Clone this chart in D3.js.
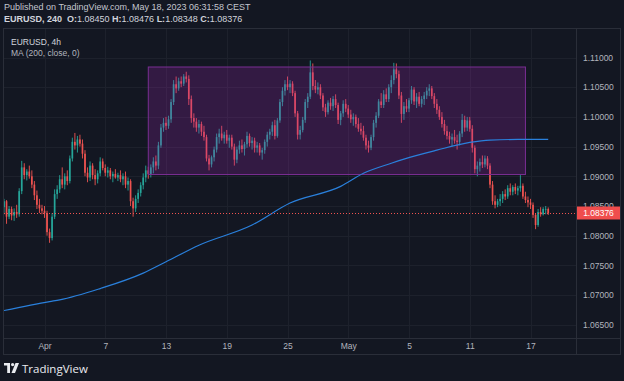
<!DOCTYPE html>
<html>
<head>
<meta charset="utf-8">
<script src="https://cdn.jsdelivr.net/npm/d3@7"></script>
<style>
  body { margin: 0; background: #131722; }
  svg { display: block; font-family: "Liberation Sans", Arial, sans-serif; }
</style>
</head>
<body>
<svg id="canvas" width="624" height="381"></svg>
<script>
// ************************************************************************************** //
// Data (EURUSD, 4h bars, Mar 29 08:00 -> May 18 04:00 CEST)

var dayTicks = [[16, 'Apr'], [40, '7'], [64, '13'], [88, '19'], [112, '25'], [136, 'May'], [160, '5'], [184, '11'], [208, '17']];
var priceTicks = [1.065, 1.07, 1.075, 1.08, 1.085, 1.09, 1.095, 1.10, 1.105, 1.11];

// [open, high, low, close]
var candles = [
  // Mar 29
  [1.0848,1.0862,1.0836,1.0858],[1.0858,1.0860,1.0820,1.0832],[1.0832,1.0850,1.0828,1.0845],[1.0845,1.0849,1.0826,1.0834],
  // Mar 30
  [1.0834,1.0846,1.0825,1.0840],[1.0840,1.0852,1.0830,1.0836],[1.0836,1.0880,1.0832,1.0875],[1.0875,1.0926,1.0870,1.0915],[1.0915,1.0922,1.0895,1.0902],[1.0902,1.0912,1.0893,1.0908],
  // Mar 31
  [1.0908,1.0918,1.0896,1.0900],[1.0900,1.0910,1.0880,1.0886],[1.0886,1.0892,1.0860,1.0868],[1.0868,1.0876,1.0845,1.0852],[1.0852,1.0862,1.0838,1.0846],[1.0846,1.0852,1.0836,1.0842],
  // Apr 3
  [1.0842,1.0850,1.0830,1.0838],[1.0838,1.0842,1.0800,1.0806],[1.0806,1.0812,1.0788,1.0796],[1.0796,1.0838,1.0792,1.0832],[1.0832,1.0878,1.0828,1.0870],[1.0870,1.0885,1.0862,1.0878],
  // Apr 4
  [1.0878,1.0902,1.0872,1.0895],[1.0895,1.0915,1.0880,1.0886],[1.0886,1.0905,1.0878,1.0900],[1.0900,1.0910,1.0885,1.0892],[1.0892,1.0935,1.0888,1.0930],[1.0930,1.0965,1.0925,1.0958],
  // Apr 5
  [1.0958,1.0973,1.0945,1.0952],[1.0952,1.0968,1.0940,1.0962],[1.0962,1.0970,1.0950,1.0955],[1.0955,1.0962,1.0930,1.0938],[1.0938,1.0944,1.0900,1.0906],[1.0906,1.0915,1.0890,1.0898],
  // Apr 6
  [1.0898,1.0925,1.0892,1.0918],[1.0918,1.0922,1.0895,1.0902],[1.0902,1.0912,1.0885,1.0895],[1.0895,1.0910,1.0888,1.0905],[1.0905,1.0932,1.0900,1.0925],[1.0925,1.0930,1.0910,1.0914],
  // Apr 7
  [1.0914,1.0920,1.0900,1.0906],[1.0906,1.0916,1.0898,1.0910],[1.0910,1.0914,1.0895,1.0900],[1.0900,1.0908,1.0890,1.0904],[1.0904,1.0912,1.0896,1.0898],[1.0898,1.0906,1.0892,1.0902],
  // Apr 10
  [1.0902,1.0910,1.0890,1.0895],[1.0895,1.0905,1.0885,1.0900],[1.0900,1.0908,1.0880,1.0886],[1.0886,1.0898,1.0876,1.0892],[1.0892,1.0895,1.0850,1.0858],[1.0858,1.0864,1.0832,1.0846],
  // Apr 11
  [1.0846,1.0868,1.0840,1.0862],[1.0862,1.0878,1.0855,1.0872],[1.0872,1.0890,1.0866,1.0885],[1.0885,1.0905,1.0878,1.0898],[1.0898,1.0918,1.0890,1.0910],[1.0910,1.0916,1.0896,1.0904],
  // Apr 12
  [1.0904,1.0920,1.0898,1.0915],[1.0915,1.0932,1.0905,1.0925],[1.0925,1.0935,1.0910,1.0918],[1.0918,1.0958,1.0912,1.0952],[1.0952,1.0988,1.0948,1.0982],[1.0982,1.0998,1.0975,1.0990],
  // Apr 13
  [1.0990,1.1000,1.0978,1.0985],[1.0985,1.1002,1.0980,1.0996],[1.0996,1.1030,1.0990,1.1025],[1.1025,1.1062,1.1020,1.1055],[1.1055,1.1068,1.1040,1.1048],[1.1048,1.1066,1.1044,1.1060],
  // Apr 14
  [1.1060,1.1068,1.1050,1.1056],[1.1056,1.1072,1.1052,1.1068],[1.1068,1.1076,1.1058,1.1064],[1.1064,1.1070,1.1020,1.1030],[1.1030,1.1036,1.0990,1.0998],[1.0998,1.1006,1.0982,1.0992],
  // Apr 17
  [1.0992,1.0998,1.0975,1.0982],[1.0982,1.0995,1.0972,1.0988],[1.0988,1.0992,1.0968,1.0975],[1.0975,1.0985,1.0960,1.0966],[1.0966,1.0970,1.0925,1.0930],[1.0930,1.0936,1.0910,1.0920],
  // Apr 18
  [1.0920,1.0935,1.0915,1.0932],[1.0932,1.0950,1.0925,1.0945],[1.0945,1.0972,1.0940,1.0966],[1.0966,1.0980,1.0955,1.0972],[1.0972,1.0985,1.0960,1.0964],[1.0964,1.0975,1.0955,1.0970],
  // Apr 19
  [1.0970,1.0978,1.0955,1.0960],[1.0960,1.0970,1.0948,1.0965],[1.0965,1.0970,1.0945,1.0950],[1.0950,1.0955,1.0918,1.0928],[1.0928,1.0950,1.0922,1.0945],[1.0945,1.0960,1.0938,1.0952],
  // Apr 20
  [1.0952,1.0962,1.0940,1.0946],[1.0946,1.0958,1.0935,1.0954],[1.0954,1.0975,1.0948,1.0968],[1.0968,1.0972,1.0950,1.0956],[1.0956,1.0966,1.0945,1.0960],[1.0960,1.0965,1.0940,1.0948],
  // Apr 21
  [1.0948,1.0958,1.0940,1.0952],[1.0952,1.0956,1.0935,1.0940],[1.0940,1.0948,1.0928,1.0944],[1.0944,1.0962,1.0938,1.0958],[1.0958,1.0975,1.0950,1.0970],[1.0970,1.0980,1.0962,1.0975],
  // Apr 24
  [1.0975,1.0992,1.0968,1.0986],[1.0986,1.0995,1.0962,1.0968],[1.0968,1.0998,1.0965,1.0994],[1.0994,1.1030,1.0990,1.1025],[1.1025,1.1050,1.1018,1.1044],[1.1044,1.1062,1.1036,1.1055],
  // Apr 25
  [1.1055,1.1068,1.1045,1.1050],[1.1050,1.1062,1.1040,1.1056],[1.1056,1.1060,1.1035,1.1040],[1.1040,1.1044,1.1000,1.1006],[1.1006,1.1010,1.0962,1.0970],[1.0970,1.0985,1.0962,1.0978],
  // Apr 26
  [1.0978,1.1000,1.0974,1.0995],[1.0995,1.1030,1.0990,1.1025],[1.1025,1.1040,1.1015,1.1034],[1.1034,1.1095,1.1030,1.1075],[1.1075,1.1090,1.1045,1.1052],[1.1052,1.1062,1.1040,1.1046],
  // Apr 27
  [1.1046,1.1058,1.1038,1.1050],[1.1050,1.1055,1.1030,1.1036],[1.1036,1.1040,1.1010,1.1016],[1.1016,1.1022,1.1000,1.1008],[1.1008,1.1028,1.1004,1.1024],[1.1024,1.1032,1.1012,1.1018],
  // Apr 28
  [1.1018,1.1035,1.1010,1.1030],[1.1030,1.1038,1.1015,1.1020],[1.1020,1.1024,1.0988,1.0995],[1.0995,1.1010,1.0986,1.1006],[1.1006,1.1028,1.1000,1.1022],[1.1022,1.1030,1.1008,1.1014],
  // May 1
  [1.1014,1.1020,1.0998,1.1004],[1.1004,1.1012,1.0990,1.0996],[1.0996,1.1006,1.0985,1.1000],[1.1000,1.1004,1.0982,1.0988],[1.0988,1.0998,1.0975,1.0980],[1.0980,1.0990,1.0970,1.0976],
  // May 2
  [1.0976,1.0985,1.0960,1.0965],[1.0965,1.0970,1.0945,1.0952],[1.0952,1.0960,1.0940,1.0948],[1.0948,1.0970,1.0944,1.0966],[1.0966,1.0995,1.0960,1.0990],[1.0990,1.1008,1.0982,1.1002],
  // May 3
  [1.1002,1.1030,1.0998,1.1026],[1.1026,1.1040,1.1015,1.1020],[1.1020,1.1045,1.1015,1.1038],[1.1038,1.1048,1.1025,1.1030],[1.1030,1.1055,1.1025,1.1050],[1.1050,1.1070,1.1040,1.1062],
  // May 4
  [1.1062,1.1091,1.1055,1.1080],[1.1080,1.1090,1.1065,1.1072],[1.1072,1.1078,1.1030,1.1036],[1.1036,1.1042,1.0990,1.1005],[1.1005,1.1025,1.0995,1.1018],[1.1018,1.1030,1.1008,1.1014],
  // May 5
  [1.1014,1.1032,1.1008,1.1028],[1.1028,1.1052,1.1022,1.1046],[1.1046,1.1050,1.1020,1.1026],[1.1026,1.1040,1.1015,1.1034],[1.1034,1.1042,1.1018,1.1022],[1.1022,1.1035,1.1016,1.1030],
  // May 8
  [1.1030,1.1042,1.1020,1.1036],[1.1036,1.1050,1.1030,1.1044],[1.1044,1.1055,1.1035,1.1048],[1.1048,1.1052,1.1030,1.1035],[1.1035,1.1040,1.1015,1.1022],[1.1022,1.1030,1.1005,1.1012],
  // May 9
  [1.1012,1.1018,1.0995,1.1000],[1.1000,1.1008,1.0982,1.0988],[1.0988,1.0995,1.0970,1.0976],[1.0976,1.0985,1.0962,1.0968],[1.0968,1.0975,1.0955,1.0962],[1.0962,1.0972,1.0950,1.0966],
  // May 10
  [1.0966,1.0978,1.0955,1.0960],[1.0960,1.0970,1.0945,1.0958],[1.0958,1.0976,1.0952,1.0972],[1.0972,1.1005,1.0966,1.0995],[1.0995,1.1002,1.0975,1.0982],[1.0982,1.1000,1.0976,1.0994],
  // May 11
  [1.0994,1.1000,1.0975,1.0980],[1.0980,1.0986,1.0940,1.0948],[1.0948,1.0952,1.0905,1.0912],[1.0912,1.0925,1.0900,1.0918],[1.0918,1.0930,1.0908,1.0924],[1.0924,1.0935,1.0914,1.0920],
  // May 12
  [1.0920,1.0935,1.0915,1.0930],[1.0930,1.0934,1.0912,1.0918],[1.0918,1.0922,1.0880,1.0886],[1.0886,1.0892,1.0852,1.0858],[1.0858,1.0868,1.0846,1.0852],[1.0852,1.0862,1.0848,1.0858],
  // May 15
  [1.0858,1.0870,1.0850,1.0862],[1.0862,1.0875,1.0855,1.0870],[1.0870,1.0878,1.0860,1.0866],[1.0866,1.0885,1.0862,1.0880],[1.0880,1.0888,1.0868,1.0874],[1.0874,1.0885,1.0868,1.0882],
  // May 16
  [1.0882,1.0888,1.0870,1.0876],[1.0876,1.0884,1.0868,1.0880],[1.0880,1.0902,1.0874,1.0884],[1.0884,1.0888,1.0862,1.0866],[1.0866,1.0874,1.0855,1.0860],[1.0860,1.0866,1.0848,1.0856],
  // May 17
  [1.0856,1.0862,1.0845,1.0852],[1.0852,1.0856,1.0830,1.0835],[1.0835,1.0838,1.0811,1.0818],[1.0818,1.0845,1.0815,1.0840],[1.0840,1.0848,1.0832,1.0836],[1.0836,1.0848,1.0834,1.0845],
  // May 18
  [1.0845,1.0850,1.0836,1.0845],[1.08450,1.08476,1.08348,1.08376]
];

// MA(200, close): [bar index, value]
var maPoints = [[0,1.0674],[18,1.0689],[22,1.0692],[38,1.0711],[55,1.0737],[64,1.0756],[77,1.0784],[98,1.0818],
  [113,1.0855],[133,1.0883],[142,1.0905],[153,1.0922],[158,1.0929],[171,1.0944],[184,1.0957],[192,1.0961],[203,1.0962],[215,1.0962]];

// rectangle drawing: bar indices and price bounds
var zoneBars = [57, 206];
var zonePrices = [1.0903, 1.1084];

var lastPrice = 1.08376;

// ************************************************************************************** //
// Layout

var svg = d3.select('#canvas');
var up = '#26a69a', down = '#ef5350';
var paneL = 4, paneR = 576, paneT = 29, paneB = 338;

svg.append('rect').attr('width', 624).attr('height', 381).attr('fill', '#131722');

var x = d3.scaleLinear().domain([16, 208]).range([44.5, 530.5]);
var y = d3.scaleLinear().domain([1.065, 1.11]).range([324.8, 57.5]);

svg.append('clipPath').attr('id', 'pane').append('rect')
  .attr('x', paneL).attr('y', paneT).attr('width', paneR - paneL).attr('height', paneB - paneT);

// grid
var grid = svg.append('g').attr('stroke', '#1d212c').attr('stroke-width', 1);
priceTicks.forEach(function(p){
  var yy = Math.round(y(p)) + 0.5;
  grid.append('line').attr('x1', paneL).attr('x2', paneR).attr('y1', yy).attr('y2', yy);
});
dayTicks.forEach(function(t){
  var xx = Math.round(x(t[0])) + 0.5;
  grid.append('line').attr('x1', xx).attr('x2', xx).attr('y1', paneT).attr('y2', paneB);
});

var plot = svg.append('g').attr('clip-path', 'url(#pane)');

// candles
var bw = (x(1) - x(0)) * 0.66;
plot.append('g').selectAll('line').data(candles).join('line')
  .attr('x1', function(d, i){ return x(i); })
  .attr('x2', function(d, i){ return x(i); })
  .attr('y1', function(d){ return y(d[1]); })
  .attr('y2', function(d){ return y(d[2]); })
  .attr('stroke', function(d){ return d[3] >= d[0] ? up : down; })
  .attr('stroke-width', 0.9);

plot.append('g').selectAll('rect').data(candles).join('rect')
  .attr('x', function(d, i){ return x(i) - bw / 2; })
  .attr('y', function(d){ return y(Math.max(d[0], d[3])); })
  .attr('width', bw)
  .attr('height', function(d){ return Math.max(0.8, Math.abs(y(d[0]) - y(d[3]))); })
  .attr('fill', function(d){ return d[3] >= d[0] ? up : down; });

// rectangle drawing
plot.append('rect')
  .attr('x', x(zoneBars[0])).attr('y', y(zonePrices[1]))
  .attr('width', x(zoneBars[1]) - x(zoneBars[0]))
  .attr('height', y(zonePrices[0]) - y(zonePrices[1]))
  .attr('fill', 'rgba(156,39,176,0.24)')
  .attr('stroke', '#7a2e93').attr('stroke-width', 1);

// moving average
plot.append('path').datum(maPoints)
  .attr('d', d3.line().x(function(d){ return x(d[0]); }).y(function(d){ return y(d[1]); }).curve(d3.curveMonotoneX))
  .attr('fill', 'none').attr('stroke', '#2a80dc').attr('stroke-width', 1.2);

// last price line
plot.append('line')
  .attr('x1', paneL).attr('x2', paneR)
  .attr('y1', Math.round(y(lastPrice)) + 0.5).attr('y2', Math.round(y(lastPrice)) + 0.5)
  .attr('stroke', down).attr('stroke-width', 1).attr('stroke-dasharray', '1,2');

// ************************************************************************************** //
// Axes

var yAxis = svg.append('g').attr('transform', 'translate(' + paneR + ',0)')
  .call(d3.axisRight(y).tickValues(priceTicks).tickFormat(d3.format('.5f')).tickSize(0).tickPadding(7));
yAxis.select('.domain').remove();
yAxis.selectAll('text').attr('fill', '#b2b5be').attr('font-size', 8.5).attr('font-family', '"Liberation Sans", Arial, sans-serif');

var dayLabel = {};
dayTicks.forEach(function(t){ dayLabel[t[0]] = t[1]; });
var xAxis = svg.append('g').attr('transform', 'translate(0,' + paneB + ')')
  .call(d3.axisBottom(x).tickValues(dayTicks.map(function(t){ return t[0]; }))
    .tickFormat(function(d){ return dayLabel[d]; }).tickSize(0).tickPadding(5));
xAxis.select('.domain').remove();
xAxis.selectAll('text').attr('fill', '#b2b5be').attr('font-size', 8.5).attr('font-family', '"Liberation Sans", Arial, sans-serif');

// last price label (covers the lower half of the 1.08500 tick, as in the original)
var ly = Math.round(y(lastPrice));
svg.append('rect').attr('x', paneR + 0.5).attr('y', ly - 6.5).attr('width', 44).attr('height', 13).attr('fill', '#f04d4d');
svg.append('text').attr('x', paneR + 22.5).attr('y', ly + 3).attr('text-anchor', 'middle')
  .attr('fill', '#ffffff').attr('font-size', 8.5).text(d3.format('.5f')(lastPrice));

// pane frame and separators
var frame = svg.append('g').attr('fill', 'none').attr('stroke', '#2a2e39').attr('stroke-width', 1);
frame.append('rect').attr('x', 3.5).attr('y', 28.5).attr('width', 617).attr('height', 326);
frame.append('line').attr('x1', paneR + 0.5).attr('x2', paneR + 0.5).attr('y1', 28.5).attr('y2', 354.5);
frame.append('line').attr('x1', 3.5).attr('x2', 620.5).attr('y1', paneB + 0.5).attr('y2', paneB + 0.5);

// ************************************************************************************** //
// Header, legend, logo

svg.append('text').attr('x', 4).attr('y', 10).attr('fill', '#c3c6ce').attr('font-size', 9)
  .text('Published on TradingView.com, May 18, 2023 06:31:58 CEST');

var ohlc = svg.append('text').attr('x', 4).attr('y', 22).attr('fill', '#d1d4dc').attr('font-size', 9);
var last = candles[candles.length - 1];
var parts = [['EURUSD, 240  ', true], ['O:', true], [d3.format('.5f')(last[0]) + ' ', false], ['H:', true], [d3.format('.5f')(last[1]) + ' ', false],
             ['L:', true], [d3.format('.5f')(last[2]) + ' ', false], ['C:', true], [d3.format('.5f')(last[3]), false]];
parts.forEach(function(p){
  ohlc.append('tspan').attr('font-weight', p[1] ? 'bold' : 'normal').attr('xml:space', 'preserve').text(p[0]);
});

svg.append('text').attr('x', 11).attr('y', 45).attr('fill', '#d1d4dc').attr('font-size', 8.5).text('EURUSD, 4h');
svg.append('text').attr('x', 11).attr('y', 56).attr('fill', '#b2b5be').attr('font-size', 8.5).text('MA (200, close, 0)');

var logo = svg.append('g').attr('transform', 'translate(4,363)').attr('fill', '#e9ebf0');
logo.append('path').attr('d', 'M0,0 H6 V10 H3.2 V2.6 H0 Z');
logo.append('circle').attr('cx', 8.6).attr('cy', 1.6).attr('r', 1.6);
logo.append('path').attr('d', 'M11.5,0 H15 L11,10 H7.5 Z');
svg.append('text').attr('x', 22).attr('y', 372.5).attr('fill', '#e9ebf0').attr('font-size', 11.5)
  .attr('font-family', '"Open Sans", "Liberation Sans", sans-serif').text('TradingView');
</script>
</body>
</html>
